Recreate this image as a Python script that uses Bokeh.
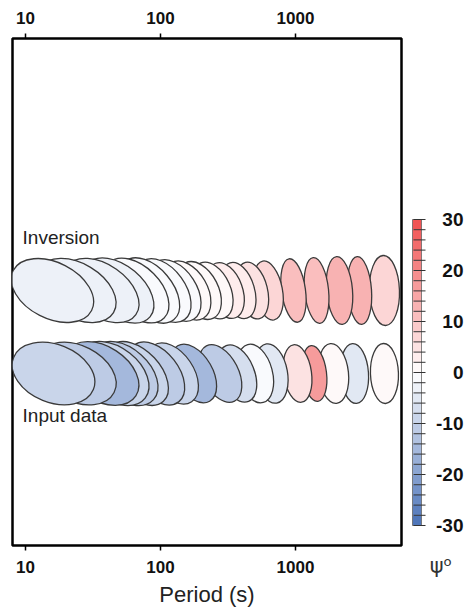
from bokeh.plotting import figure
from bokeh.models import Range1d, LogAxis, LinearAxis, FixedTicker, ColumnDataSource, LinearColorMapper, PrintfTickFormatter
from bokeh.layouts import row
from bokeh.embed import file_html
from bokeh.resources import INLINE
from bokeh.core.properties import value

# ---------------- data ----------------
period_ticks = [10, 100, 1000]

# Inversion row (period s, major axis px, minor axis px, azimuth deg, psi deg)
inv_period = [15.8, 23.9, 36.5, 48.9, 66.4, 82.9, 105, 129, 158, 194, 243, 303, 378, 480, 630, 966, 1432, 2118, 2980, 4560]
inv_major = [88, 86, 84, 82, 78, 76, 72, 68, 64, 62, 60, 58, 58, 58, 60, 64, 66, 68, 68, 70]
inv_minor = [56, 54, 52, 50, 48, 46, 44, 42, 40, 38, 36, 34, 32, 30, 28, 24, 24, 26, 24, 30]
inv_angle = [-27, -31, -35, -40, -45, -50, -54, -57, -60, -63, -66, -70, -73, -76, -79, -82, -84, -85, -86, -88]
inv_psi = [-3, -3, -3, -3, -2, -2, -1, -1, 0, 1, 1, 2, 3, 5, 7, 10, 10, 13, 12, 7]

# Input data row
inp_period = [16.1, 23.9, 36.5, 44.9, 54.1, 67.5, 93.4, 123, 176, 278, 371, 505, 664, 1035, 1383, 1911, 2735, 4560]
inp_major = [86, 84, 82, 80, 78, 76, 72, 68, 64, 62, 60, 60, 60, 58, 56, 60, 60, 60]
inp_minor = [58, 56, 54, 52, 50, 46, 44, 42, 38, 36, 34, 34, 32, 28, 24, 30, 28, 28]
inp_angle = [-22, -27, -33, -38, -42, -47, -52, -56, -60, -63, -68, -75, -80, -82, -83, -84, -86, -88]
inp_psi = [-10, -12, -15, -9, -12, -10, -12, -9, -16, -12, -8, -2, -6, 4, 17, 1, -6, 1]

row_names = ["Inversion", "Input data"]
row_y = [255, 172]
label_y = [308, 130]

psi_levels = list(range(-30, 31, 2))
psi_labels = [30, 20, 10, 0, -10, -20, -30]

# ---------------- colour map (blue - white - red) ----------------
blue = (74, 114, 184)
white = (255, 255, 255)
red = (240, 78, 78)
palette = []
for lo, hi in zip(psi_levels[:-1], psi_levels[1:]):
    mid = (lo + hi) / 2
    t = abs(mid) / 30
    end = red if mid > 0 else blue
    palette.append("#%02x%02x%02x" % tuple(int(round(w + (e - w) * t)) for w, e in zip(white, end)))
mapper = LinearColorMapper(palette=palette, low=-30, high=30)

FONT = "Liberation Sans"

# ---------------- main panel ----------------
p = figure(width=410, height=615, x_axis_type="log",
           x_range=Range1d(8.0, 6100), y_range=Range1d(0, 507),
           output_backend="svg", toolbar_location=None,
           min_border_left=12, min_border_right=9, min_border_top=38, min_border_bottom=70,
           y_axis_location=None)
p.background_fill_color = "white"
p.border_fill_color = "white"
p.grid.visible = False
p.outline_line_color = "black"
p.outline_line_width = 2.5

top_axis = LogAxis()
p.add_layout(top_axis, "above")
for ax in (p.below[0], top_axis):
    ax.ticker = FixedTicker(ticks=period_ticks, minor_ticks=[])
    ax.formatter = PrintfTickFormatter(format="%d")
    ax.major_label_text_font = FONT
    ax.major_label_text_font_style = "bold"
    ax.major_label_text_font_size = "17px"
    ax.major_label_text_color = "#111111"
    ax.major_tick_out = 5
    ax.major_tick_in = 0
    ax.minor_tick_out = 0
    ax.minor_tick_in = 0
    ax.major_tick_line_width = 1.5
    ax.axis_line_color = None
    ax.major_label_standoff = 10
p.below[0].axis_label = "Period (s)"
p.below[0].axis_label_text_font = FONT
p.below[0].axis_label_text_font_style = "normal"
p.below[0].axis_label_text_font_size = "22px"
p.below[0].axis_label_text_color = "#222222"
p.below[0].axis_label_standoff = 6

rows = [
    (inv_period, inv_major, inv_minor, inv_angle, inv_psi, row_y[0]),
    (inp_period, inp_major, inp_minor, inp_angle, inp_psi, row_y[1]),
]
for per, maj, mnr, ang, psi, yy in rows:
    # draw right-to-left so the left ellipses lie on top
    src = ColumnDataSource(dict(
        x=per[::-1], y=[yy] * len(per), w=maj[::-1], h=mnr[::-1],
        a=ang[::-1], psi=psi[::-1]))
    p.ellipse(x="x", y="y", width="w", height="h", angle="a", angle_units="deg",
              width_units="screen", height_units="screen", source=src,
              fill_color={"field": "psi", "transform": mapper},
              line_color="#3a3a3a", line_width=1.3)

p.text(x=[9.5, 9.5], y=label_y, text=row_names, text_font=value(FONT),
       text_font_size="19px", text_baseline="middle", text_align="left",
       text_color="#222222")

# ---------------- colour bar panel (frame aligned with main frame) ----------------
cb = figure(width=61, height=615, x_range=Range1d(0, 61), y_range=Range1d(-33.92, 65.49),
            output_backend="svg", toolbar_location=None,
            min_border_left=0, min_border_right=0, min_border_top=38, min_border_bottom=70,
            x_axis_location=None, y_axis_location=None)
cb.grid.visible = False
cb.outline_line_color = None
cb.background_fill_color = "white"
cb.border_fill_color = "white"

bins = ColumnDataSource(dict(bottom=psi_levels[:-1], top=psi_levels[1:],
                             mid=[(a + b) / 2 for a, b in zip(psi_levels[:-1], psi_levels[1:])]))
cb.quad(left=2, right=11, bottom="bottom", top="top", source=bins,
        fill_color={"field": "mid", "transform": mapper}, line_color=None)
cb.quad(left=[2], right=[11], bottom=[psi_levels[0]], top=[psi_levels[-1]],
        fill_color=None, line_color="#666666", line_width=0.8)
cb.segment(x0=3, x1=15, y0=psi_levels, y1=psi_levels, line_color="#333333", line_width=1)
cb.text(x=53, y=psi_labels, text=[str(v) for v in psi_labels], text_font=value(FONT),
        text_font_style="bold", text_font_size="19px", text_align="right",
        text_baseline="middle", text_color="#111111")

psi_axis = LinearAxis(ticker=FixedTicker(ticks=[]), axis_label="ψᵒ")
psi_axis.axis_line_color = None
psi_axis.major_tick_line_color = None
psi_axis.minor_tick_line_color = None
psi_axis.major_label_text_font_size = "0px"
psi_axis.axis_label_text_font = "DejaVu Sans"
psi_axis.axis_label_text_font_style = "normal"
psi_axis.axis_label_text_font_size = "21px"
psi_axis.axis_label_text_color = "#333333"
psi_axis.axis_label_standoff = 8
cb.add_layout(psi_axis, "below")

layout = row(p, cb, spacing=0)
open("out.html", "w").write(file_html(layout, INLINE))
